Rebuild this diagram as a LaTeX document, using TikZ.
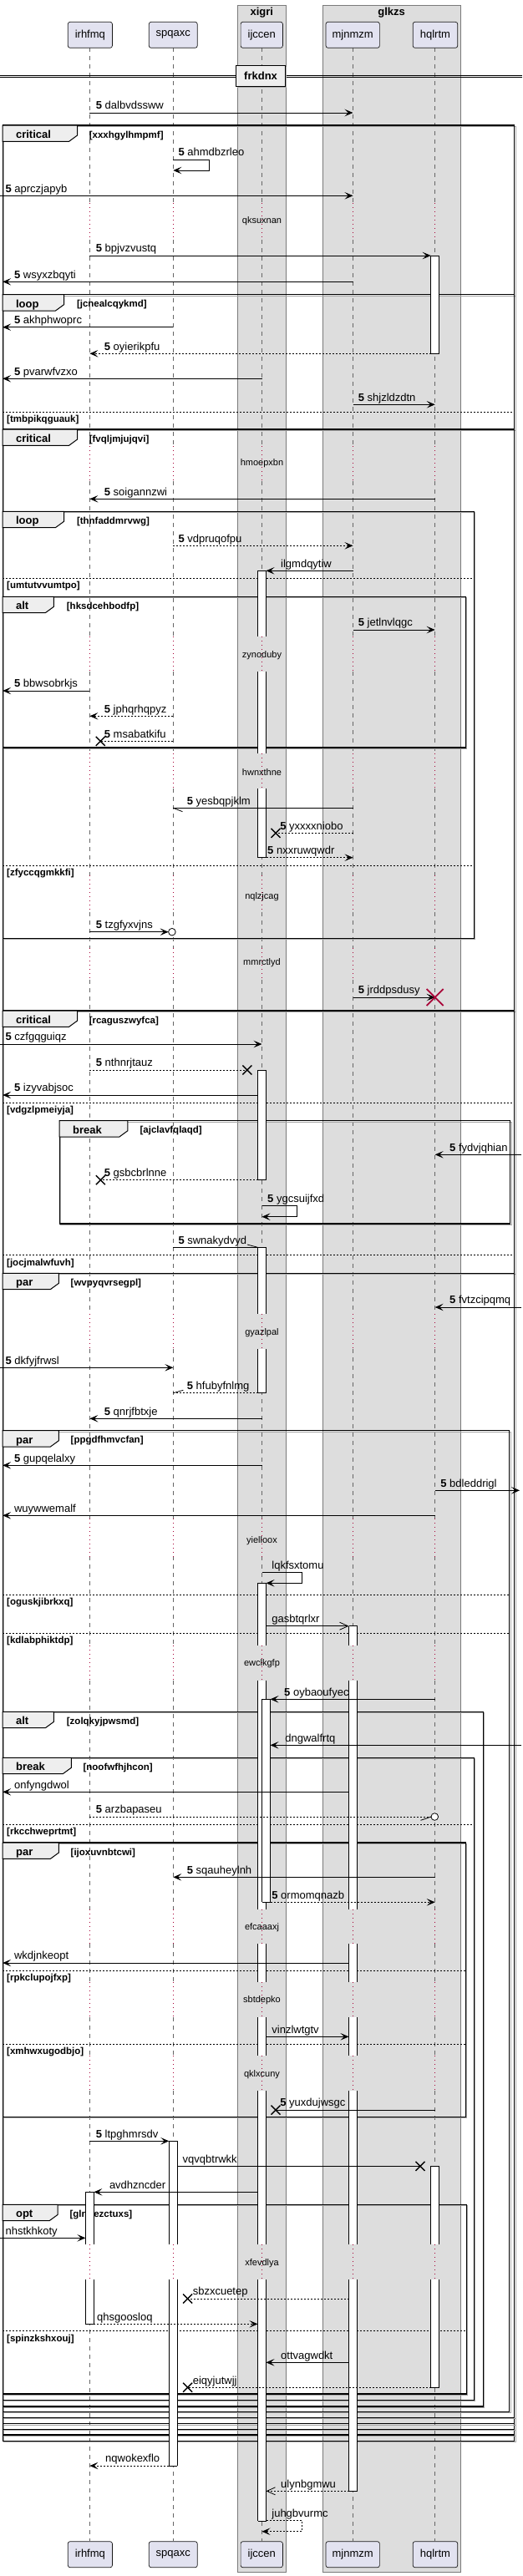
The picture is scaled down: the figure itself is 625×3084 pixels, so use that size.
\documentclass[tikz,border=0pt]{standalone}
\usepackage{fontspec}
\setmainfont{Liberation Sans}
\usetikzlibrary{arrows.meta}
\definecolor{partfill}{HTML}{E2E2F0}
\definecolor{partline}{HTML}{181818}
\definecolor{boxfill}{HTML}{DDDDDD}
\definecolor{boxline}{HTML}{7A7A7A}
\definecolor{lifec}{HTML}{666666}
\definecolor{delayc}{HTML}{A80036}
\definecolor{tabfill}{HTML}{EEEEEE}
\tikzset{
  lbl/.style={anchor=base west, inner sep=0pt, font=\fontsize{13}{15}\selectfont},
  tablbl/.style={anchor=base west, inner sep=0pt, font=\bfseries\fontsize{13}{15}\selectfont},
  condlbl/.style={anchor=base west, inner sep=0pt, font=\bfseries\fontsize{11.5}{13}\selectfont},
  dlbl/.style={inner sep=0pt, font=\fontsize{11}{13}\selectfont},
  part/.style={draw=partline, fill=partfill, rounded corners=2.5pt, line width=0.7pt, minimum height=31pt, inner sep=0pt},
  grpbox/.style={fill=boxfill, draw=boxline, line width=0.8pt},
  life/.style={draw=lifec, line width=0.6pt, dash pattern=on 5pt off 5pt},
  dline/.style={draw=delayc, line width=0.8pt, dash pattern=on 0.8pt off 4.2pt},
  frline/.style={draw=black, line width=1.4pt},
  frshadow/.style={draw=black!35, line width=1pt},
  tabst/.style={fill=tabfill, draw=black, line width=1pt},
  elsest/.style={draw=black, line width=0.8pt, dash pattern=on 2pt off 2pt},
  actl/.style={draw=black, line width=0.8pt},
  msgl/.style={draw=black, line width=0.8pt},
  sol/.style={msgl, -{Stealth[length=10pt,width=8.5pt,inset=4.5pt]}},
  dsh/.style={msgl, dash pattern=on 2pt off 2pt, -{Stealth[length=10pt,width=8.5pt,inset=4.5pt]}},
  soln/.style={msgl},
  dshn/.style={msgl, dash pattern=on 2pt off 2pt},
  oar/.style={msgl, -{Straight Barb[length=10pt,width=9pt,line width=0.8pt]}},
  doar/.style={msgl, dash pattern=on 2pt off 2pt, -{Straight Barb[length=10pt,width=9pt,line width=0.8pt]}},
}
\newcommand\sn{\textbf{5} }
\newcommand\msg[7]{%
  \coordinate (#1a) at (#2,#4);
  \coordinate (#1b) at (#3,#4);
  \draw[#5] (#1a) -- (#1b);
  \node[lbl] (#1l) at (#6,#4-4.3) {#7};}
\newcommand\selfmsg[9]{%
  \coordinate (#1a) at (#2,#3);
  \coordinate (#1b) at (#6,#4);
  \draw[#7] (#1a) -- (#5,#3) -- (#5,#4) -- (#1b);
  \node[lbl] (#1l) at (#8,#3-4.3) {#9};}
\newcommand\xm[2]{\draw[line width=1.4pt] (#1-5.5,#2-5.5) -- (#1+5.5,#2+5.5) (#1-5.5,#2+5.5) -- (#1+5.5,#2-5.5);}
\newcommand\act[5]{%
  \fill[white] (#1,#2) rectangle (#1+10,#3);
  \draw[actl] (#1,#2) -- (#1,#3) (#1+10,#2) -- (#1+10,#3);
  \if#4c\draw[actl] (#1,#2) -- (#1+10,#2);\fi
  \if#5c\draw[actl] (#1,#3) -- (#1+10,#3);\fi}
\newcommand\grp[9]{%
  \draw[frshadow] (#2+1.5,#3+1.5) rectangle (#4+1.5,#5+1.5);
  \draw[frline] (#2,#3) rectangle (#4,#5);
  \filldraw[tabst] (#2,#3) -- (#7,#3) -- (#7,#3+12) -- (#7-10,#3+19.3) -- (#2,#3+19.3) -- cycle;
  \node[tablbl] (#1t) at (#2+15.7,#3+15.5) {#6};
  \node[condlbl] (#1c) at (#9,#3+15) {#8};}
\newcommand\elsel[4]{%
  \draw[elsest] (3.2,#2) -- (#3,#2);
  \node[condlbl] (#1) at (8,#2+12.5) {#4};}
\newcommand\dly[3]{\node[dlbl] (#1) at (313.5,#2) {#3};}

\begin{document}
\begin{tikzpicture}[x=1pt,y=-1pt,font=\fontsize{13}{15}\selectfont]
\useasboundingbox (0,0) rectangle (625,3084);
\fill[white] (0,0) rectangle (625,3084);

% box groups
\filldraw[grpbox] (284.1,6) rectangle (342.5,3079);
\node[font=\bfseries\fontsize{13}{15}\selectfont] (bx1) at (313.3,15.5) {xigri};
\filldraw[grpbox] (385.9,6) rectangle (551.3,3079);
\node[font=\bfseries\fontsize{13}{15}\selectfont] (bx2) at (468.6,15.5) {glkzs};

% lifelines
\foreach \lx in {107.4,207.3,313.5,422.5,520.7}{
  \foreach \ya/\yb in {57.3/243,287/534,576/762.3,804.3/902.3,944.3/1048,1092/1135,1173.3/1573.3,1615/1818,1863.3/1970,2011.7/2285.7,2327.3/2373.3,2415/2461,2503.3/2687.3,2729.3/3042.3}
    \draw[life] (\lx,\ya) -- (\lx,\yb);
  \foreach \ya/\yb in {243/287,534/576,762.3/804.3,902.3/944.3,1048/1092,1135/1173.3,1573.3/1615,1818/1863.3,1970/2011.7,2285.7/2327.3,2373.3/2415,2461/2503.3,2687.3/2729.3}
    \draw[dline] (\lx,\ya) -- (\lx,\yb);
}

% participants
\node[part, minimum width=53.1pt] (p1) at (107.85,41.8) {irhfmq};
\node[part, minimum width=57.9pt] (p2) at (207.25,41.8) {spqaxc};
\node[part, minimum width=50.3pt] (p3) at (313.25,41.8) {ijccen};
\node[part, minimum width=64.3pt] (p4) at (422.2,41.8) {mjnmzm};
\node[part, minimum width=53.5pt] (p5) at (520.95,41.8) {hqlrtm};
\node[part, minimum width=53.1pt] (q1) at (107.85,3058.2) {irhfmq};
\node[part, minimum width=57.9pt] (q2) at (207.25,3058.2) {spqaxc};
\node[part, minimum width=50.3pt] (q3) at (313.25,3058.2) {ijccen};
\node[part, minimum width=64.3pt] (q4) at (422.2,3058.2) {mjnmzm};
\node[part, minimum width=53.5pt] (q5) at (520.95,3058.2) {hqlrtm};

% divider
\draw[black, line width=0.8pt] (0,90) -- (625,90) (0,92.7) -- (625,92.7);
\fill[black!35] (284,79.8) rectangle (343.2,105.2);
\node[draw=black, fill=tabfill, line width=1.5pt, minimum width=59.2pt, minimum height=25.4pt, inner sep=0pt, font=\bfseries\fontsize{13}{15}\selectfont] (div) at (312.1,91) {frkdnx};

% frames
\grp{g1}{3.2}{150}{615.7}{2922.3}{critical}{92.6}{[xxxhgylhmpmf]}{106.6}
\grp{g2}{3.2}{352.7}{615.7}{2915}{loop}{76.5}{[jcnealcqykmd]}{91.8}
\elsel{e1}{493.3}{615.7}{[tmbpikqguauk]}
\grp{g3}{3.2}{514}{615.7}{2908.3}{critical}{92.6}{[fvqljmjujqvi]}{106.6}
\grp{g4}{3.2}{612.3}{567.4}{1123.3}{loop}{76.5}{[thnfaddmrvwg]}{91.8}
\elsel{e2}{692.3}{567.4}{[umtutvvumtpo]}
\elsel{e3}{1036}{567.4}{[zfyccqgmkkfi]}
\grp{g5}{3.2}{714.3}{557.4}{895}{alt}{64.4}{[hksdcehbodfp]}{79.7}
\grp{g6}{3.2}{1210}{615.7}{2901.7}{critical}{92.6}{[rcaguszwyfca]}{106.6}
\elsel{e4}{1320}{615.7}{[vdgzlpmeiyja]}
\elsel{e5}{1502.7}{615.7}{[jocjmalwfuvh]}
\grp{g7}{71.2}{1341.7}{610.5}{1465}{break}{152.9}{[ajclavfqlaqd]}{167.4}
\grp{g8}{3.2}{1524.3}{615.7}{2894.3}{par}{70.4}{[wvpyqvrsegpl]}{84.5}
\grp{g9}{3.2}{1712.7}{609.7}{2887.3}{par}{70.4}{[ppgdfhmvcfan]}{84.5}
\elsel{e6}{1909.3}{609.7}{[oguskjibrkxq]}
\elsel{e7}{1955.3}{609.7}{[kdlabphiktdp]}
\grp{g10}{3.2}{2049.3}{578.3}{2881}{alt}{64.4}{[zolqkyjpwsmd]}{79.7}
\grp{g11}{3.2}{2104.3}{567.4}{2873.3}{break}{85.3}{[noofwfhjhcon]}{99.4}
\elsel{e8}{2184.3}{567.4}{[rkcchweprtmt]}
\grp{g12}{3.2}{2206}{557.4}{2534.3}{par}{70.4}{[ijoxuvnbtcwi]}{84.5}
\elsel{e9}{2359}{557.4}{[rpkclupojfxp]}
\elsel{e10}{2447.3}{557.4}{[xmhwxugodbjo]}
\grp{g13}{3.2}{2639.3}{558.2}{2866}{opt}{69.2}{[glrojezctuxs]}{83.3}
\elsel{e11}{2790.7}{558.2}{[spinzkshxouj]}

% activations
\act{515.7}{306}{423.3}{c}{c}
\act{308.5}{683.3}{762.3}{c}{o}
\act{308.5}{804.3}{902.3}{o}{o}
\act{308.5}{944.3}{1026.7}{o}{c}
\act{308.5}{1281}{1412.7}{c}{c}
\act{308.5}{1493.3}{1573.3}{c}{o}
\act{308.5}{1615}{1667.7}{o}{c}
\act{308.5}{1895.3}{1970}{c}{o}
\act{308.5}{2011.7}{2285.7}{o}{o}
\act{308.5}{2327.3}{2373.3}{o}{o}
\act{308.5}{2415}{2461}{o}{o}
\act{308.5}{2503.3}{2687.3}{o}{o}
\act{308.5}{2729.3}{3018.3}{o}{c}
\act{313.5}{2034.3}{2277.3}{c}{c}
\act{417.5}{1946.7}{1970}{c}{o}
\act{417.5}{2011.7}{2285.7}{o}{o}
\act{417.5}{2327.3}{2373.3}{o}{o}
\act{417.5}{2415}{2461}{o}{o}
\act{417.5}{2503.3}{2687.3}{o}{o}
\act{417.5}{2729.3}{2982.3}{o}{c}
\act{202.3}{2563.3}{2687.3}{c}{o}
\act{202.3}{2729.3}{2952}{o}{c}
\act{515.7}{2593.3}{2687.3}{c}{o}
\act{515.7}{2729.3}{2858.3}{o}{c}
\act{102.4}{2624.3}{2687.3}{c}{o}
\act{102.4}{2729.3}{2782.3}{o}{c}

% delays
\dly{d1}{264.3}{qksuxnan}
\dly{d2}{555}{hmoepxbn}
\dly{d3}{784.3}{zynoduby}
\dly{d4}{924.3}{hwnxthne}
\dly{d5}{1073.3}{nqlzjcag}
\dly{d6}{1152.7}{mmrctlyd}
\dly{d7}{1595.7}{gyazlpal}
\dly{d8}{1845}{yielloox}
\dly{d9}{1991.7}{ewclkgfp}
\dly{d10}{2307.7}{efcaaaxj}
\dly{d11}{2395}{sbtdepko}
\dly{d12}{2483.3}{qklxcuny}
\dly{d13}{2709.3}{xfevdlya}

% messages
\msg{m1}{107.4}{422.5}{135}{sol}{114.7}{\sn dalbvdssww}
\selfmsg{s2}{207.3}{191}{204}{250}{207.3}{sol}{213.3}{\sn ahmdbzrleo}
\msg{m3}{0}{422.5}{234.3}{sol}{6.4}{\sn aprczjapyb}
\msg{m4}{107.4}{515.7}{306}{sol}{114.7}{\sn bpjvzvustq}
\msg{m5}{422.5}{3.2}{337.3}{sol}{16.9}{\sn wsyxzbqyti}
\msg{m6}{207.3}{3.2}{391.7}{sol}{16.9}{\sn akhphwoprc}
\msg{m7}{515.7}{107.4}{423.3}{dsh}{124.7}{\sn oyierikpfu}
\msg{m8}{313.5}{3.2}{453.3}{sol}{16.9}{\sn pvarwfvzxo}
\msg{m9}{422.5}{520.7}{484.3}{sol}{428.6}{\sn shjzldzdtn}
\msg{m10}{520.7}{107.4}{597.3}{sol}{124.7}{\sn soigannzwi}
\msg{m11}{207.3}{422.5}{653.3}{dsh}{213.3}{\sn vdpruqofpu}
\msg{m12}{422.5}{318.5}{683.3}{sol}{336}{ilgmdqytiw}
\msg{m13}{422.5}{520.7}{754}{sol}{428.6}{\sn jetlnvlqgc}
\msg{m14}{107.4}{3.2}{827}{sol}{16.9}{\sn bbwsobrkjs}
\msg{m15}{207.3}{107.4}{857.3}{dsh}{124.7}{\sn jphqrhqpyz}
\msg{m16}{207.3}{120.3}{887.3}{dshn}{124.7}{\sn msabatkifu}
\xm{120.3}{887.3}
\msg{m17}{422.5}{207.3}{967.3}{soln}{223.7}{\sn yesbqpjklm}
\draw[msgl] (m17b) -- ++(11.2,4.4);
\msg{m18}{422.5}{330}{997.3}{dshn}{335.2}{\sn yxxxxniobo}
\xm{330}{997.3}
\msg{m19}{318.5}{422.5}{1026.7}{dsh}{320}{\sn nxxruwqwdr}
\msg{m20}{107.4}{201.6}{1115.7}{sol}{114.7}{\sn tzgfyxvjns}
\draw[msgl, fill=white] (205.9,1115.7) circle[radius=4.3pt];
\msg{m21}{422.5}{520.7}{1194}{sol}{428.6}{\sn jrddpsdusy}
\draw[delayc, line width=1.8pt] (510.7,1184) -- (530.7,1204) (510.7,1204) -- (530.7,1184);
\msg{m22}{0}{313.5}{1250}{sol}{6.4}{\sn czfgqguiqz}
\msg{m23}{107.4}{295.8}{1281}{dshn}{114.7}{\sn nthnrjtauz}
\xm{295.8}{1281}
\msg{m24}{308.5}{3.2}{1311}{sol}{16.9}{\sn izyvabjsoc}
\msg{m25}{624}{520.7}{1382.3}{sol}{538}{\sn fydvjqhian}
\msg{m26}{308.5}{120.3}{1412.7}{dshn}{124.7}{\sn gsbcbrlnne}
\xm{120.3}{1412.7}
\selfmsg{s27}{313.5}{1443.3}{1456.7}{355.7}{313.5}{sol}{320}{\sn ygcsuijfxd}
\msg{m28}{207.3}{308.5}{1493.3}{soln}{213.3}{\sn swnakydvyd}
\draw[msgl] (m28b) -- ++(-12.5,-3.3);
\msg{m29}{624}{520.7}{1565}{sol}{538}{\sn fvtzcipqmq}
\msg{m30}{0}{207.3}{1637.3}{sol}{6.4}{\sn dkfyjfrwsl}
\msg{m31}{308.5}{207.3}{1667.7}{dshn}{223.7}{\sn hfubyfnlmg}
\draw[msgl] (m31b) -- ++(12,-3.4);
\msg{m32}{313.5}{107.4}{1698.3}{sol}{124.7}{\sn qnrjfbtxje}
\msg{m33}{313.5}{3.2}{1754.3}{sol}{16.9}{\sn gupqelalxy}
\msg{m34}{520.7}{622}{1784.3}{sol}{527.2}{\sn bdleddrigl}
\msg{m35}{520.7}{3.2}{1814.3}{sol}{16.9}{wuywwemalf}
\selfmsg{s36}{313.5}{1882.3}{1895.3}{361}{318.5}{sol}{325.2}{lqkfsxtomu}
\msg{m37}{318.5}{417.5}{1946.7}{oar}{325.2}{gasbtqrlxr}
\msg{m38}{520.7}{323.5}{2034.3}{sol}{340}{\sn oybaoufyec}
\msg{m39}{624}{323.5}{2089.3}{sol}{341.2}{dngwalfrtq}
\msg{m40}{417.5}{3.2}{2145.3}{sol}{16.9}{onfyngdwol}
\msg{m41}{107.4}{516}{2175}{dshn}{114.7}{\sn arzbapaseu}
\draw[msgl] (m41b) -- ++(-12.5,4.3);
\draw[msgl, fill=white] (520.3,2175) circle[radius=4.3pt];
\msg{m42}{520.7}{207.3}{2247.3}{sol}{223.7}{\sn sqauheylnh}
\msg{m43}{323.5}{520.7}{2277.3}{dsh}{325.2}{\sn ormomqnazb}
\msg{m44}{417.5}{3.2}{2350}{sol}{16.9}{wkdjnkeopt}
\msg{m45}{318.5}{417.5}{2438.3}{sol}{325.2}{vinzlwtgtv}
\msg{m46}{520.7}{330}{2526}{soln}{335.2}{\sn yuxdujwsgc}
\xm{330}{2526}
\msg{m47}{107.4}{202.3}{2563.3}{sol}{114.7}{\sn ltpghmrsdv}
\msg{m48}{212.3}{503}{2593.3}{soln}{218.5}{vqvqbtrwkk}
\xm{503}{2593.3}
\msg{m49}{308.5}{112.4}{2624.3}{sol}{130.8}{avdhzncder}
\msg{m50}{0}{102.4}{2679.3}{sol}{6.4}{nhstkhkoty}
\msg{m51}{417.5}{224.6}{2752}{dshn}{230.6}{sbzxcuetep}
\xm{224.6}{2752}
\msg{m52}{112.4}{308.5}{2782.3}{dsh}{115.9}{qhsgoosloq}
\msg{m53}{417.5}{318.5}{2828.3}{sol}{336}{ottvagwdkt}
\msg{m54}{515.7}{224.6}{2858.3}{dshn}{230.6}{eiqyjutwjj}
\xm{224.6}{2858.3}
\msg{m55}{202.3}{107.4}{2952}{dsh}{126}{nqwokexflo}
\msg{m56}{417.5}{318.5}{2982.3}{doar}{336}{ulynbgmwu}
\selfmsg{s57}{318.5}{3017.3}{3030.7}{361}{313.5}{dsh}{325.2}{juhgbvurmc}
\end{tikzpicture}
\end{document}
